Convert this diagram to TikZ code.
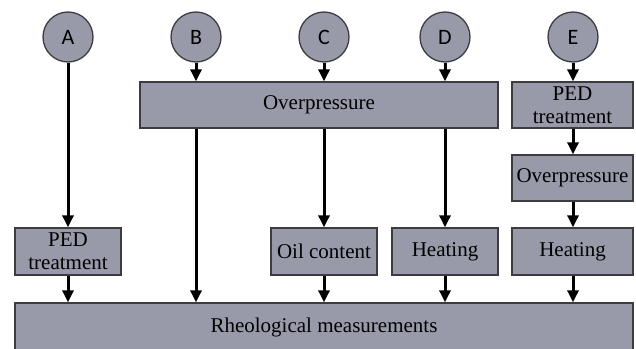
\documentclass[tikz,border=0pt]{standalone}
\usepackage{fontspec}
\setmainfont{Liberation Serif}
\newfontfamily\lettfont{Carlito}
\usetikzlibrary{arrows.meta}
\definecolor{boxgray}{RGB}{152,154,170}
\definecolor{edgegray}{RGB}{60,60,64}

\begin{document}
\begin{tikzpicture}[x=1pt,y=-1pt,
  stagebox/.style={draw=edgegray,line width=1.3pt,fill=boxgray,inner sep=0pt,
    minimum height=46pt,align=center,font=\fontsize{21}{23}\selectfont},
  groupcirc/.style={circle,draw=edgegray,line width=1.3pt,fill=boxgray,inner sep=0pt,
    minimum size=50pt,font=\lettfont\fontsize{22}{24}\selectfont},
  arr/.style={line width=3pt,-{Triangle[width=11pt,length=12pt]}}]
\useasboundingbox (0,0) rectangle (636,348);
% groups
\node[groupcirc] (A) at (68,37) {A};
\node[groupcirc] (B) at (196,37) {B};
\node[groupcirc] (C) at (324,37) {C};
\node[groupcirc] (D) at (445,37) {D};
\node[groupcirc] (E) at (573,37) {E};
% treatments
\node[stagebox,minimum width=358pt] (over) at (319,105) {Overpressure};
\node[stagebox,minimum width=121pt] (pedE) at (572.5,105) {PED\\treatment};
\node[stagebox,minimum width=121pt] (overE) at (572.5,178) {Overpressure};
\node[stagebox,minimum width=106pt,minimum height=47pt] (pedA) at (68,251.5) {PED\\treatment};
\node[stagebox,minimum width=106pt,minimum height=47pt] (oil) at (324,251.5) {Oil content};
\node[stagebox,minimum width=106pt,minimum height=47pt] (heatD) at (445,251.5) {Heating};
\node[stagebox,minimum width=121pt,minimum height=47pt] (heatE) at (572.5,251.5) {Heating};
\node[stagebox,minimum width=618pt,minimum height=48pt] (rheo) at (324,327) {Rheological measurements};
% A
\draw[arr] (A) -- (pedA);
\draw[arr] (pedA) -- (pedA |- rheo.north);
% B
\draw[arr] (B) -- (B |- over.north);
\draw[arr] (over.south -| B) -- (rheo.north -| B);
% C
\draw[arr] (C) -- (C |- over.north);
\draw[arr] (over.south -| oil) -- (oil);
\draw[arr] (oil) -- (oil |- rheo.north);
% D
\draw[arr] (D) -- (D |- over.north);
\draw[arr] (over.south -| heatD) -- (heatD);
\draw[arr] (heatD) -- (heatD |- rheo.north);
% E
\draw[arr] (E) -- (E |- pedE.north);
\draw[arr] (pedE.south -| E) -- (overE.north -| E);
\draw[arr] (overE.south -| E) -- (heatE.north -| E);
\draw[arr] (heatE.south -| E) -- (rheo.north -| E);
\end{tikzpicture}
\end{document}
